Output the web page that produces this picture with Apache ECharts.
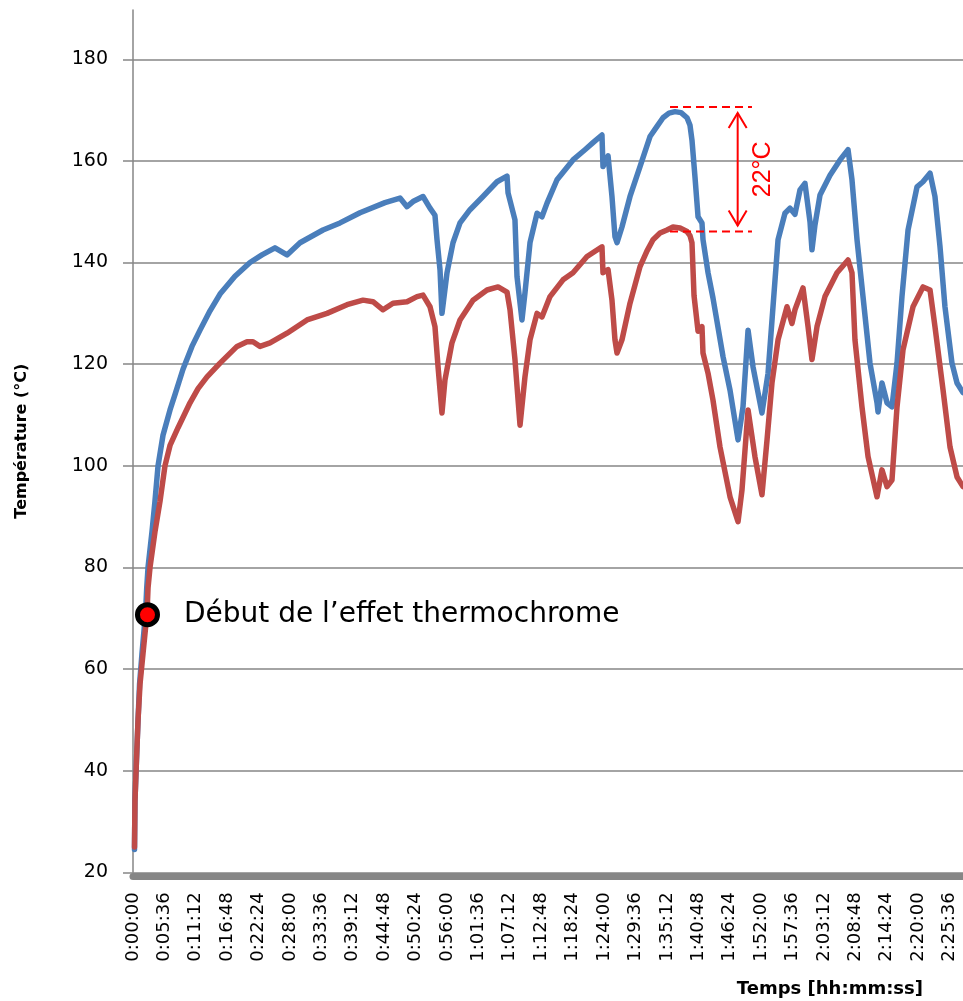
<!DOCTYPE html>
<html>
<head>
<meta charset="utf-8">
<script src="https://cdn.jsdelivr.net/npm/echarts@6/dist/echarts.min.js"></script>
<style>
  html, body { margin: 0; padding: 0; background: #fff; }
  #chart { width: 963px; height: 1001px; }
</style>
</head>
<body>
<div id="chart"></div>
<script>
// Elapsed time in seconds and temperature in °C for the two probes
const blueTime = [16, 21, 37, 54, 70, 96, 134, 147, 161, 203, 235, 268, 321, 396, 449, 535, 631, 717, 824, 931, 1091, 1252, 1380, 1519, 1648, 1787, 2033, 2215, 2429, 2696, 2857, 2932, 2996, 3103, 3178, 3231, 3253, 3285, 3306, 3360, 3424, 3499, 3606, 3745, 3895, 4002, 4013, 4087, 4109, 4162, 4194, 4248, 4323, 4376, 4430, 4537, 4708, 4836, 4922, 5018, 5029, 5083, 5125, 5157, 5179, 5232, 5318, 5425, 5532, 5607, 5671, 5735, 5799, 5864, 5928, 5960, 5981, 6013, 6046, 6088, 6099, 6153, 6206, 6313, 6388, 6474, 6527, 6581, 6634, 6730, 6795, 6848, 6902, 6976, 7030, 7083, 7137, 7190, 7244, 7265, 7297, 7351, 7458, 7565, 7651, 7672, 7693, 7747, 7811, 7886, 7961, 7972, 8014, 8068, 8121, 8175, 8228, 8293, 8389, 8453, 8528, 8581, 8635, 8688, 8763, 8817, 8881];
const blueTemp = [24.5, 34, 42, 50, 57, 63, 71, 76, 80, 87, 93, 100, 106, 111, 114, 119, 123.5, 126.7, 130.5, 133.8, 137.3, 140, 141.5, 142.9, 141.5, 143.9, 146.4, 147.8, 149.8, 151.8, 152.7, 151, 152, 153, 150.7, 149.3, 144.5, 138.6, 130, 138, 143.9, 147.8, 150.4, 153, 155.9, 157, 153.7, 148.4, 137.2, 128.7, 134, 143.9, 149.7, 149, 151.7, 156.3, 160.2, 162.2, 163.6, 165.1, 158.9, 161, 153, 145.1, 143.9, 147, 153, 158.9, 164.8, 166.8, 168.5, 169.4, 169.7, 169.5, 168.5, 167, 164.1, 156.9, 149, 147.8, 144.5, 138, 133, 121.5, 114.9, 105.1, 111.6, 126.7, 119.5, 110.4, 118.2, 131.3, 144.5, 149.7, 150.7, 149.5, 154.3, 155.6, 148, 142.5, 147.4, 153.3, 157.2, 160.2, 162.2, 162.2, 156.3, 144.5, 133.3, 120.2, 112.4, 110.6, 116.3, 112.4, 111.6, 120.2, 133.3, 146.4, 154.9, 155.9, 157.6, 153, 143.1, 131.3, 120.2, 116.3, 114.4];

const redTime = [16, 21, 37, 54, 75, 107, 150, 161, 182, 235, 289, 342, 396, 482, 610, 696, 792, 931, 1113, 1220, 1284, 1359, 1466, 1648, 1862, 2076, 2290, 2461, 2568, 2675, 2782, 2932, 3039, 3103, 3178, 3231, 3264, 3306, 3338, 3413, 3499, 3638, 3788, 3906, 4002, 4034, 4087, 4141, 4194, 4248, 4323, 4376, 4462, 4601, 4708, 4858, 5018, 5029, 5083, 5125, 5157, 5179, 5232, 5318, 5425, 5500, 5564, 5639, 5714, 5778, 5853, 5928, 5960, 5981, 6003, 6046, 6088, 6099, 6153, 6206, 6281, 6388, 6474, 6516, 6581, 6655, 6730, 6784, 6837, 6902, 6998, 7051, 7083, 7169, 7223, 7265, 7319, 7404, 7533, 7651, 7693, 7725, 7800, 7865, 7961, 8014, 8068, 8121, 8175, 8239, 8346, 8453, 8528, 8581, 8667, 8742, 8817, 8881];
const redTemp = [25, 34, 42, 50, 57, 63, 71, 76, 80, 87, 93, 100, 104, 107.5, 112.4, 115.2, 117.5, 120.2, 123.5, 124.4, 124.4, 123.5, 124.2, 126.1, 128.7, 130, 131.7, 132.6, 132.3, 130.7, 132, 132.3, 133.3, 133.6, 131.3, 127.4, 119.5, 110.4, 116.9, 124.2, 128.7, 132.6, 134.6, 135.2, 134.2, 130.7, 120.9, 108, 117.5, 124.8, 130, 129.3, 133.3, 136.6, 138, 141.2, 143.1, 138, 138.6, 132.6, 124.8, 122.2, 124.8, 132, 139.2, 142.3, 144.5, 145.8, 146.4, 147, 146.8, 146.1, 145.3, 143.9, 133.5, 126.5, 127.4, 122.2, 118.2, 112.9, 103.7, 93.9, 89, 95.2, 111, 101.8, 94.3, 105.1, 116.3, 124.8, 131.3, 128, 130.7, 135, 127.4, 120.9, 127.4, 133.3, 138, 140.5, 138, 124.8, 111.6, 101.8, 93.9, 99.2, 95.9, 97.2, 111.6, 122.8, 131.3, 135.2, 134.6, 127.4, 115, 103.7, 97.8, 95.9];

// Onset of the thermochromic effect
const onsetPoint = [155, 70.7];
const onsetText = 'Début de l’effet thermochrome';

// Peak-to-peak gap annotation
const gapStart = 5746, gapEnd = 6623, gapHigh = 170.6, gapLow = 146.1, gapArrowAt = 6470;
const gapText = '22°C';

// Axis settings
const timeStep = 336;          // 5 min 36 s between labels
const timeEnd = 8881;
const tempMin = 20, tempMax = 180, tempStep = 20, tempAxisTop = 190;

const zip = (xs, ys) => xs.map((x, i) => [x, ys[i]]);

function hms(sec) {
  const h = Math.floor(sec / 3600);
  const m = Math.floor((sec % 3600) / 60);
  const s = Math.round(sec % 60);
  return h + ':' + String(m).padStart(2, '0') + ':' + String(s).padStart(2, '0');
}

const GRID_LEFT = 133, GRID_BOTTOM = 128.7;
const axisGray = '#868686';
const red = '#FF0000';

function renderGap(params, api) {
  const a = api.coord([gapStart, gapHigh]);
  const b = api.coord([gapEnd, gapHigh]);
  const c = api.coord([gapStart, gapLow]);
  const d = api.coord([gapEnd, gapLow]);
  const top = api.coord([gapArrowAt, gapHigh]);
  const bot = api.coord([gapArrowAt, gapLow]);
  const ax = top[0];
  const tipTop = top[1] + 6, tipBot = bot[1] - 6;
  const dash = { stroke: red, lineWidth: 2, lineDash: [8, 5], fill: null };
  const solid = { stroke: red, lineWidth: 2, fill: null };
  return {
    type: 'group',
    children: [
      { type: 'line', shape: { x1: a[0], y1: a[1], x2: b[0], y2: b[1] }, style: dash },
      { type: 'line', shape: { x1: c[0], y1: c[1], x2: d[0], y2: d[1] }, style: dash },
      { type: 'line', shape: { x1: ax, y1: tipTop, x2: ax, y2: tipBot }, style: solid },
      { type: 'polyline', shape: { points: [[ax - 9, tipTop + 15], [ax, tipTop], [ax + 9, tipTop + 15]] }, style: solid },
      { type: 'polyline', shape: { points: [[ax - 9, tipBot - 15], [ax, tipBot], [ax + 9, tipBot - 15]] }, style: solid },
      {
        type: 'text', x: ax + 25, y: (tipTop + tipBot) / 2, rotation: Math.PI / 2,
        style: { text: gapText, fill: red, font: '25px "Liberation Sans", Arial, sans-serif', align: 'center', verticalAlign: 'middle' }
      }
    ]
  };
}

const chart = echarts.init(document.getElementById('chart'), null, { renderer: 'canvas' });

chart.setOption({
  animation: false,
  backgroundColor: '#ffffff',
  grid: [
    { left: GRID_LEFT, right: 0, top: 59.3, bottom: GRID_BOTTOM },
    { left: GRID_LEFT, right: 0, top: 10, bottom: GRID_BOTTOM }
  ],
  xAxis: [
    {
      type: 'value', gridIndex: 0, min: 0, max: timeEnd, interval: timeStep, offset: 4,
      axisLine: { show: true, lineStyle: { color: axisGray, width: 7 } },
      axisTick: { show: false },
      splitLine: { show: false },
      axisLabel: {
        rotate: 90, margin: 16, color: '#000',
        fontFamily: 'DejaVu Sans', fontSize: 18,
        formatter: v => (v % timeStep === 0 ? hms(v) : '')
      }
    },
    { type: 'value', gridIndex: 1, min: 0, max: timeEnd, show: false }
  ],
  yAxis: [
    {
      type: 'value', gridIndex: 0, min: tempMin, max: tempMax, interval: tempStep,
      axisLine: { show: false },
      axisTick: { show: true, length: 10, lineStyle: { color: axisGray, width: 1.5 } },
      splitLine: { show: true, lineStyle: { color: axisGray, width: 1.5 } },
      axisLabel: { margin: 25, color: '#000', fontFamily: 'DejaVu Sans', fontSize: 19 }
    },
    {
      type: 'value', gridIndex: 1, min: tempMin, max: tempAxisTop,
      name: 'Température (°C)', nameLocation: 'middle', nameGap: 103,
      nameTextStyle: { color: '#000', fontFamily: 'DejaVu Sans', fontWeight: 'bold', fontSize: 16 },
      axisLine: { show: true, lineStyle: { color: axisGray, width: 1.5 } },
      axisTick: { show: false },
      axisLabel: { show: false },
      splitLine: { show: false }
    }
  ],
  graphic: [
    {
      type: 'text', right: 40, top: 980,
      style: { text: 'Temps [hh:mm:ss]', fill: '#000', font: 'bold 18px "DejaVu Sans"' }
    }
  ],
  series: [
    {
      type: 'line', name: 'blue', xAxisIndex: 0, yAxisIndex: 0,
      data: zip(blueTime, blueTemp), showSymbol: false, symbol: 'none',
      lineStyle: { color: '#4A7EBB', width: 5.5, join: 'round', cap: 'round' }, z: 3
    },
    {
      type: 'line', name: 'red', xAxisIndex: 0, yAxisIndex: 0,
      data: zip(redTime, redTemp), showSymbol: false, symbol: 'none',
      lineStyle: { color: '#BE4B48', width: 5.5, join: 'round', cap: 'round' }, z: 4
    },
    {
      type: 'scatter', xAxisIndex: 0, yAxisIndex: 0,
      data: [onsetPoint], symbolSize: 20,
      itemStyle: { color: red, borderColor: '#000', borderWidth: 5, opacity: 1 },
      label: {
        show: true, position: 'right', distance: 24, formatter: onsetText,
        color: '#000', fontFamily: 'DejaVu Sans', fontSize: 28
      },
      z: 6
    },
    {
      type: 'custom', xAxisIndex: 0, yAxisIndex: 0,
      data: [[gapArrowAt, gapHigh]], renderItem: renderGap, clip: false, z: 5
    }
  ]
});
</script>
</body>
</html>
